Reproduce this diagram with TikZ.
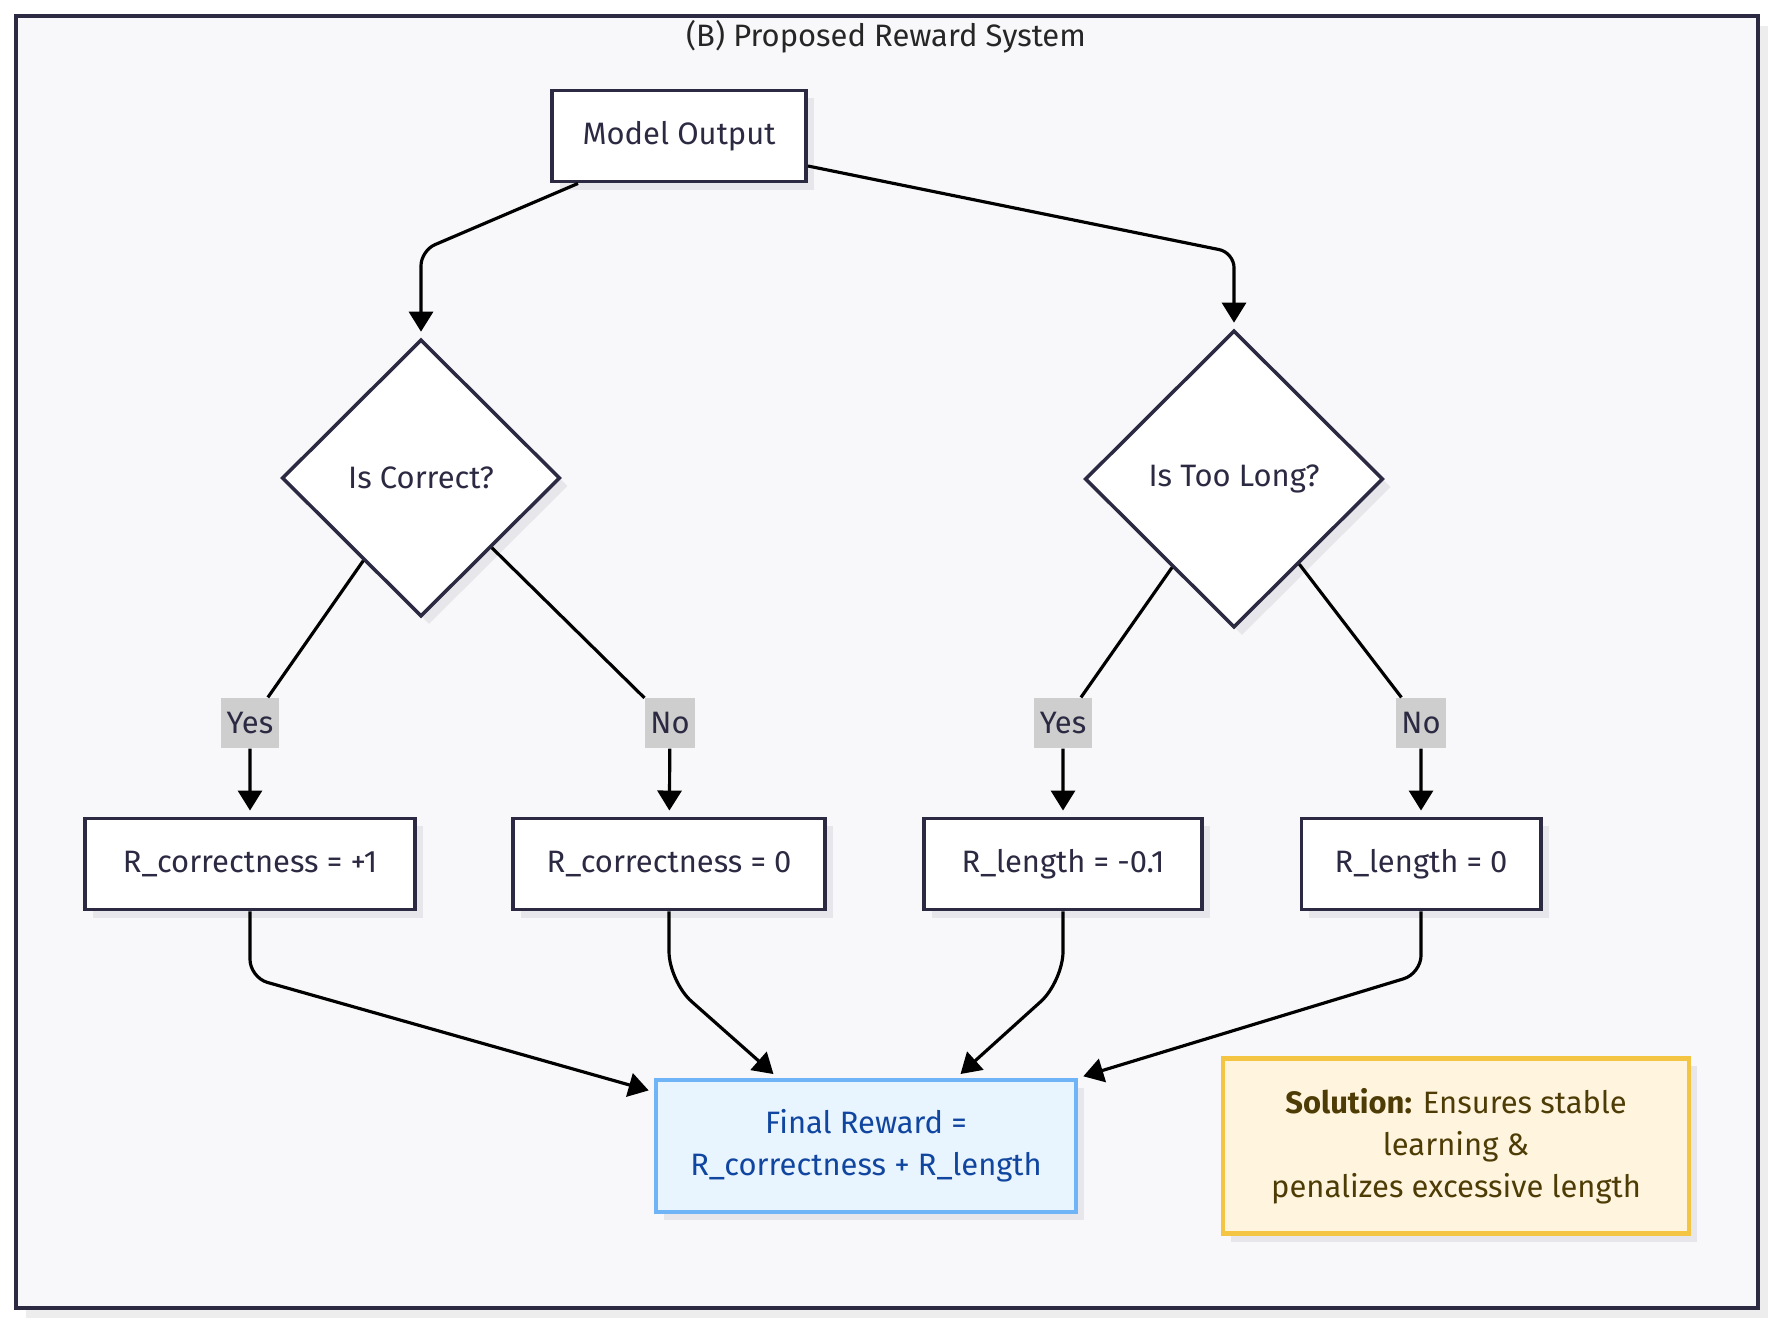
\documentclass[tikz,border=0pt]{standalone}
\usepackage{fontspec}
\setmainfont{Fira Sans}
\usepackage{tikz}
\usetikzlibrary{positioning, arrows.meta, shapes.geometric, shadows}
\definecolor{frameNavy}{RGB}{43, 42, 66}
\definecolor{paperGray}{RGB}{248, 248, 250}
\definecolor{shadowGray}{RGB}{231, 231, 235}
\definecolor{labelGray}{RGB}{206, 206, 206}
\definecolor{finalBlue}{RGB}{232, 244, 254}
\definecolor{finalEdge}{RGB}{110, 180, 246}
\definecolor{finalText}{RGB}{16, 70, 160}
\definecolor{noteFill}{RGB}{255, 245, 222}
\definecolor{noteEdge}{RGB}{244, 197, 66}
\definecolor{noteText}{RGB}{78, 60, 6}
\tikzset{
  boxShadow/.style={
    drop shadow={shadow xshift=0.08cm, shadow yshift=-0.08cm, fill=shadowGray, opacity=1}
  },
  flowBox/.style={
    draw=frameNavy,
    line width=1.1pt,
    fill=white,
    boxShadow,
    minimum height=0.91cm,
    inner sep=2pt,
    font=\fontsize{8.8}{12}\selectfont\color{frameNavy}
  },
  decisionNode/.style={
    diamond,
    draw=frameNavy,
    line width=1pt,
    fill=white,
    boxShadow,
    inner sep=0pt,
    font=\fontsize{8.8}{12}\selectfont\color{frameNavy}
  },
  edgeLabel/.style={
    fill=labelGray,
    inner xsep=1.5pt,
    inner ysep=4pt,
    font=\fontsize{8.8}{12}\selectfont\color{frameNavy}
  },
  finalBox/.style={
    draw=finalEdge,
    line width=1.1pt,
    fill=finalBlue,
    boxShadow,
    align=center,
    minimum width=4.19cm,
    minimum height=1.32cm,
    font=\fontsize{8.8}{12}\selectfont\color{finalText}
  },
  noteBox/.style={
    draw=noteEdge,
    line width=1.3pt,
    fill=noteFill,
    boxShadow,
    align=center,
    minimum width=4.66cm,
    minimum height=1.75cm,
    font=\fontsize{8.8}{12}\selectfont\color{noteText}
  },
  flowArrow/.style={
    -{Triangle[length=0.2cm, width=0.24cm]},
    line width=0.9pt,
    draw=black,
    shorten >=0.06cm
  }
}

\begin{document}
\begin{tikzpicture}[x=0.01cm, y=-0.01cm]
  \useasboundingbox (0,0) rectangle (1774,1324);
  % Panel B frame and title
  \draw[draw=frameNavy, line width=1.1pt, fill=paperGray,
        drop shadow={shadow xshift=0.1cm, shadow yshift=-0.1cm, fill=black!7, opacity=1}]
        (16,16) rectangle (1758,1308);
  \node[font=\fontsize{8.8}{12}\selectfont\color{black!85}] (title) at (886,37) {(B) Proposed Reward System};

  % Decisions
  \node[flowBox, minimum width=2.54cm] (model) at (679,136) {Model Output};
  \node[decisionNode, minimum width=2.78cm, minimum height=2.77cm] (correct) at (421,478) {Is Correct?};
  \node[decisionNode, minimum width=2.98cm, minimum height=2.97cm] (tooLong) at (1234,479) {Is Too Long?};
  \node[edgeLabel] (yesC) at (250,723) {Yes};
  \node[edgeLabel] (noC) at (670,723) {No};
  \node[edgeLabel] (yesL) at (1063,723) {Yes};
  \node[edgeLabel] (noL) at (1421,723) {No};

  % Partial rewards
  \node[flowBox, minimum width=3.29cm] (rCorPlus) at (250,864) {R\_correctness = +1};
  \node[flowBox, minimum width=3.12cm] (rCorZero) at (669,864) {R\_correctness = 0};
  \node[flowBox, minimum width=2.78cm] (rLenNeg) at (1063,864) {R\_length = -0.1};
  \node[flowBox, minimum width=2.39cm] (rLenZero) at (1421,864) {R\_length = 0};
  \node[finalBox] (final) at (866,1146) {Final Reward =\\R\_correctness + R\_length};
  \node[noteBox] (note) at (1456,1146) {\textbf{Solution:} Ensures stable\\learning \&\\penalizes excessive length};

  % Connectors
  \draw[flowArrow, rounded corners=0.15cm] ([xshift=0.28cm]model.south west) -- ([yshift=0.87cm]correct.north) -- (correct.north);
  \draw[flowArrow, rounded corners=0.15cm] ([yshift=-0.3cm]model.east) -- ([yshift=0.76cm]tooLong.north) -- (tooLong.north);
  \draw[flowArrow] (correct) -- (yesC) -- (rCorPlus);
  \draw[flowArrow] (correct) -- (noC) -- (rCorZero);
  \draw[flowArrow] (tooLong) -- (yesL) -- (rLenNeg);
  \draw[flowArrow] (tooLong) -- (noL) -- (rLenZero);
  \draw[flowArrow, rounded corners=0.18cm] (rCorPlus.south) -- ++(0,66) -- ([yshift=-0.14cm]final.north west);
  \draw[flowArrow, rounded corners=0.3cm] (rCorZero.south) -- ++(0,70) -- ([xshift=-0.88cm]final.north);
  \draw[flowArrow, rounded corners=0.3cm] (rLenNeg.south) -- ++(0,70) -- ([xshift=0.9cm]final.north);
  \draw[flowArrow, rounded corners=0.18cm] (rLenZero.south) -- ++(0,62) -- (final.north east);
\end{tikzpicture}
\end{document}
